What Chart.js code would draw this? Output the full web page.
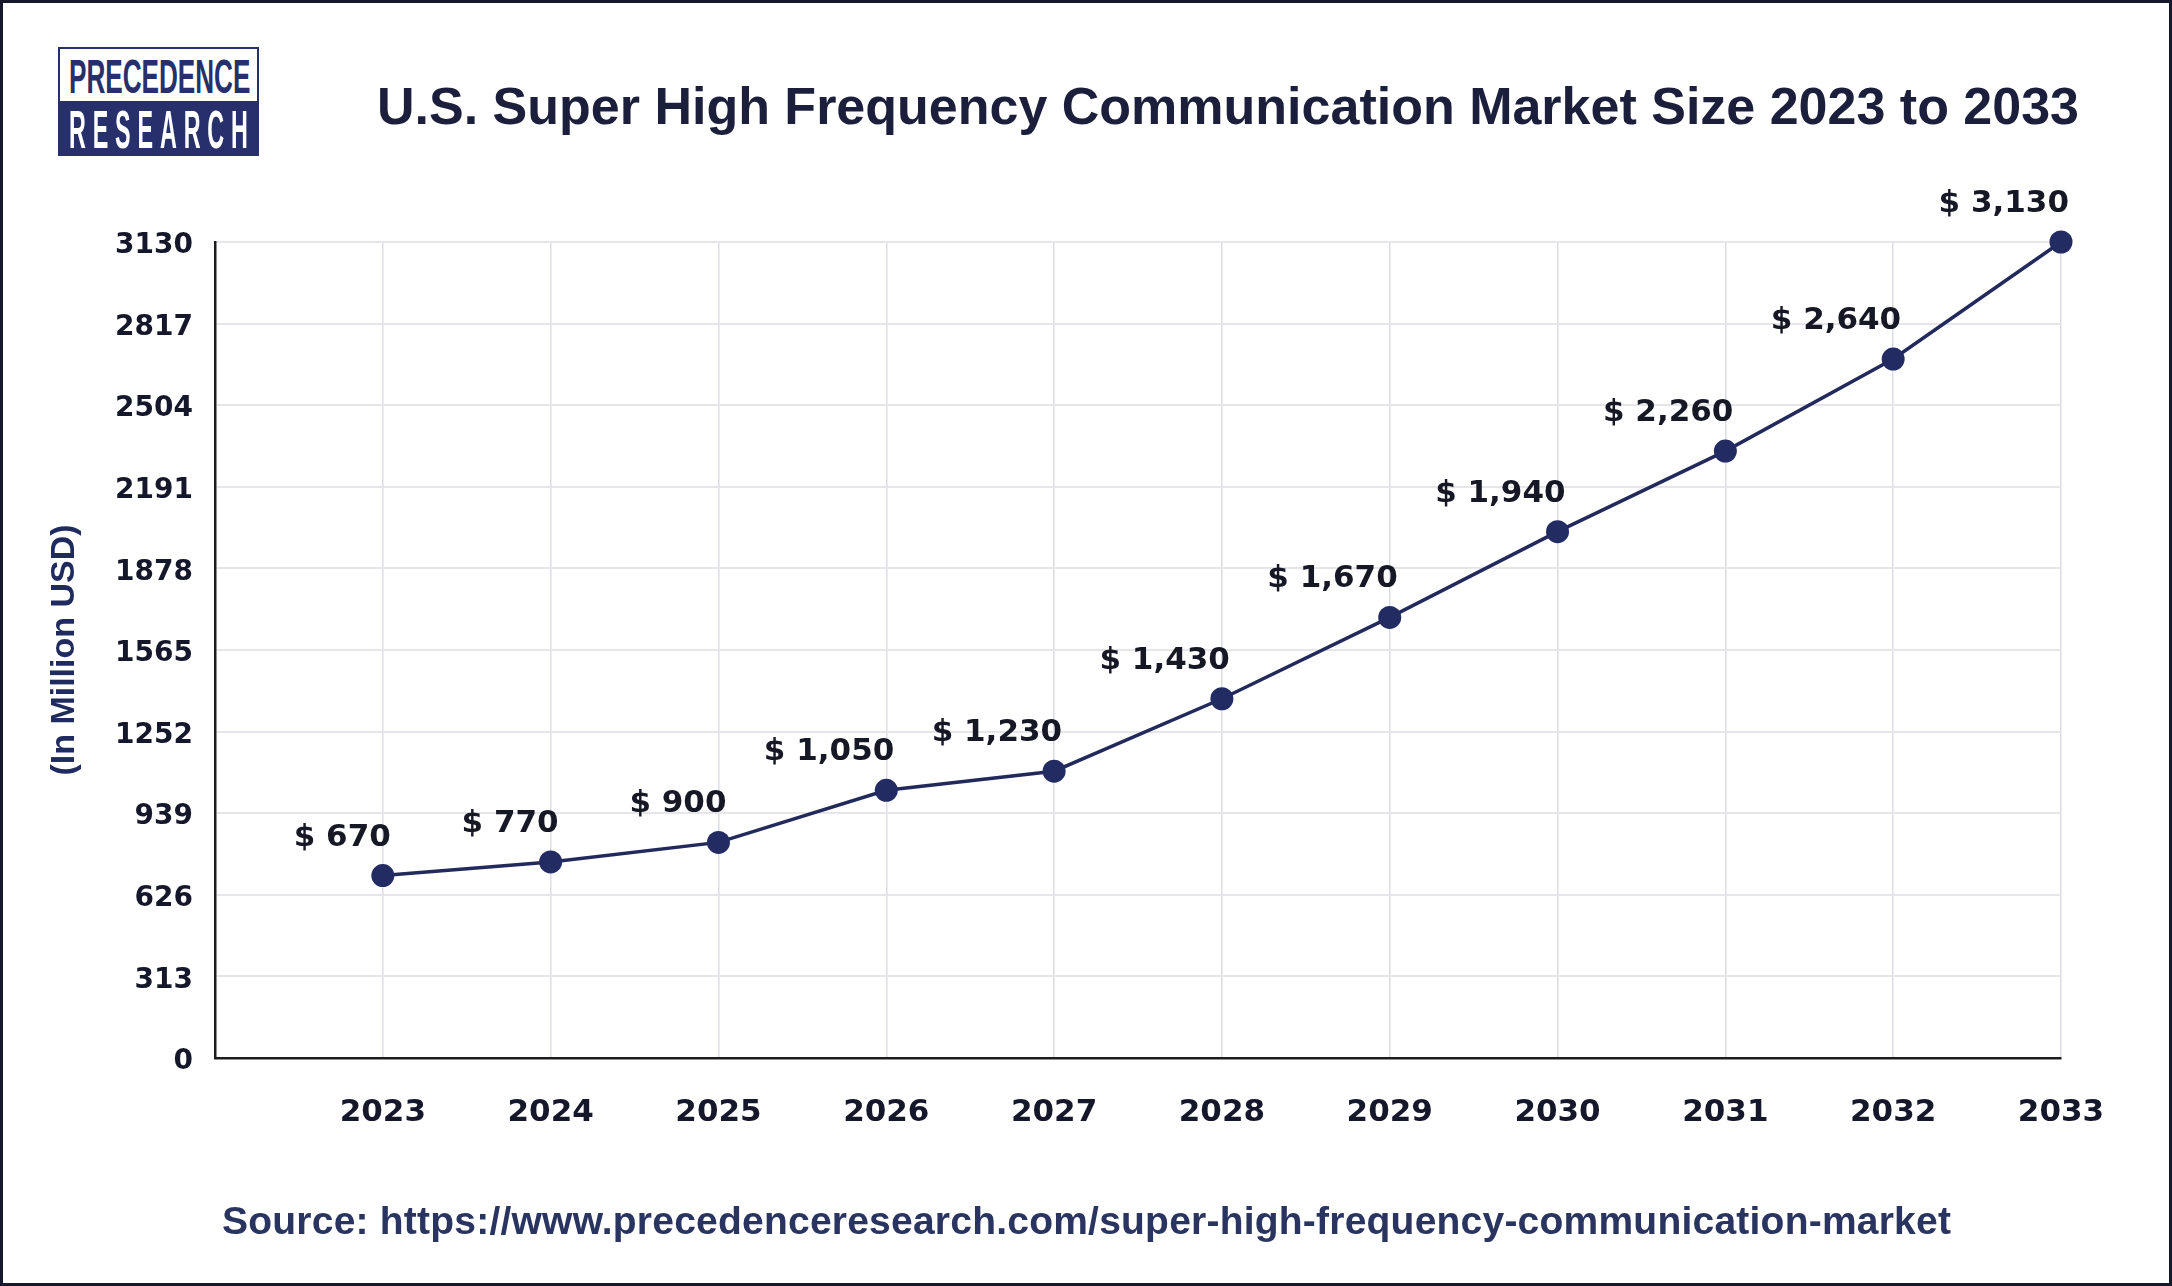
<!DOCTYPE html>
<html>
<head>
<meta charset="utf-8">
<script src="https://cdn.jsdelivr.net/npm/chart.js@4/dist/chart.umd.min.js"></script>
<style>
  html, body { margin: 0; padding: 0; background: #ffffff; }
  #wrap { position: relative; width: 2172px; height: 1286px; background: #ffffff; overflow: hidden; }
  #frame { position: absolute; left: 0; top: 0; width: 2172px; height: 1286px; box-sizing: border-box; border: 3px solid #16182b; pointer-events: none; }
  #chart { position: absolute; left: 0; top: 0; }
  #title { position: absolute; left: 377px; top: 80px; font: bold 52px "Liberation Sans", Arial, sans-serif; line-height: 52px; color: #1b1f3b; white-space: nowrap; }
  #source { position: absolute; left: 222px; top: 1201px; font: bold 39px "Liberation Sans", Arial, sans-serif; line-height: 39px; letter-spacing: 0.22px; color: #2a3460; white-space: nowrap; }
  #logo { position: absolute; left: 58px; top: 47px; width: 201px; height: 109px; box-sizing: border-box; border: 2px solid #28306c; background: #ffffff; }
  #logo .bottom { position: absolute; left: 0; right: 0; top: 52px; bottom: 0; background: #28306c; }
  #logo .l1 { position: absolute; left: 9px; top: 3px; font: bold 49px "Liberation Sans", Arial, sans-serif; line-height: 49px; color: #28306c; white-space: nowrap; transform: scaleX(0.533); transform-origin: 0 0; }
  #logo .l2 { position: absolute; left: 9px; top: 54px; font: bold 53px "Liberation Sans", Arial, sans-serif; line-height: 53px; color: #ffffff; white-space: nowrap; letter-spacing: 15.6px; transform: scaleX(0.44); transform-origin: 0 0; }
</style>
</head>
<body>
<div id="wrap">
  <canvas id="chart" width="2172" height="1286"></canvas>
  <div id="logo"><div class="bottom"></div><div class="l1">PRECEDENCE</div><div class="l2">RESEARCH</div></div>
  <div id="title">U.S. Super High Frequency Communication Market Size 2023 to 2033</div>
  <div id="source">Source: https://www.precedenceresearch.com/super-high-frequency-communication-market</div>
  <div id="frame"></div>
</div>
<script>
// ---- Data ----
const years = [2023, 2024, 2025, 2026, 2027, 2028, 2029, 2030, 2031, 2032, 2033];
// plotted positions of the points
const marketValues = [700, 752, 827, 1027, 1100, 1378, 1690, 2019, 2328, 2681, 3130];
// value labels printed next to the points
const valueLabels = ['$ 670', '$ 770', '$ 900', '$ 1,050', '$ 1,230', '$ 1,430', '$ 1,670', '$ 1,940', '$ 2,260', '$ 2,640', '$ 3,130'];
const yTickValues = [0, 313, 626, 939, 1252, 1565, 1878, 2191, 2504, 2817, 3130];
const xAxisStart = 2022;
const yAxisTitle = '(In Million USD)';

const valueLabelPlugin = {
  id: 'valueLabels',
  afterDatasetsDraw(chart) {
    const ctx = chart.ctx;
    const meta = chart.getDatasetMeta(0);
    ctx.save();
    ctx.font = 'bold 31px "DejaVu Sans"';
    ctx.fillStyle = '#161826';
    ctx.textAlign = 'right';
    ctx.textBaseline = 'middle';
    meta.data.forEach((pt, i) => {
      ctx.fillText(valueLabels[i], pt.x + 8, pt.y - 38);
    });
    ctx.restore();
  }
};

new Chart(document.getElementById('chart'), {
  type: 'line',
  data: {
    datasets: [{
      data: years.map((y, i) => ({ x: y, y: marketValues[i] })),
      borderColor: '#222a5c',
      borderWidth: 3.5,
      pointRadius: 11.5,
      pointHoverRadius: 11.5,
      pointBackgroundColor: '#232b63',
      pointBorderColor: '#232b63',
      pointBorderWidth: 0,
      tension: 0,
      clip: false
    }]
  },
  options: {
    responsive: false,
    animation: false,
    events: [],
    layout: { padding: { left: 44, top: 242, right: 111, bottom: 128 } },
    plugins: { legend: { display: false }, tooltip: { enabled: false } },
    scales: {
      x: {
        type: 'linear',
        min: xAxisStart,
        max: years[years.length - 1],
        afterBuildTicks: s => { s.ticks = [{ value: xAxisStart }].concat(years.map(v => ({ value: v }))); },
        afterFit: s => { s.height = 100; },
        ticks: {
          callback: v => (v === xAxisStart ? '' : String(v)),
          font: { family: 'DejaVu Sans', weight: 'bold', size: 31 },
          color: '#15172a',
          padding: 36,
          maxRotation: 0,
          autoSkip: false
        },
        grid: { color: '#dcdde4', lineWidth: 1.5, drawTicks: false },
        border: { display: true, color: '#1c1c1c', width: 2.5 }
      },
      y: {
        min: 0,
        max: yTickValues[yTickValues.length - 1],
        afterBuildTicks: s => { s.ticks = yTickValues.map(v => ({ value: v })); },
        afterFit: s => { s.width = 171; },
        ticks: {
          callback: v => String(v),
          font: { family: 'DejaVu Sans', weight: 'bold', size: 28 },
          color: '#15172a',
          padding: 22,
          labelOffset: 4,
          autoSkip: false
        },
        grid: { color: '#e6e6ea', lineWidth: 2, drawTicks: false },
        border: { display: true, color: '#1c1c1c', width: 2.5 },
        title: {
          display: true,
          text: yAxisTitle,
          color: '#1f2a5e',
          font: { family: 'Liberation Sans', weight: 'bold', size: 34 },
          padding: 0
        }
      }
    }
  },
  plugins: [valueLabelPlugin]
});
</script>
</body>
</html>
